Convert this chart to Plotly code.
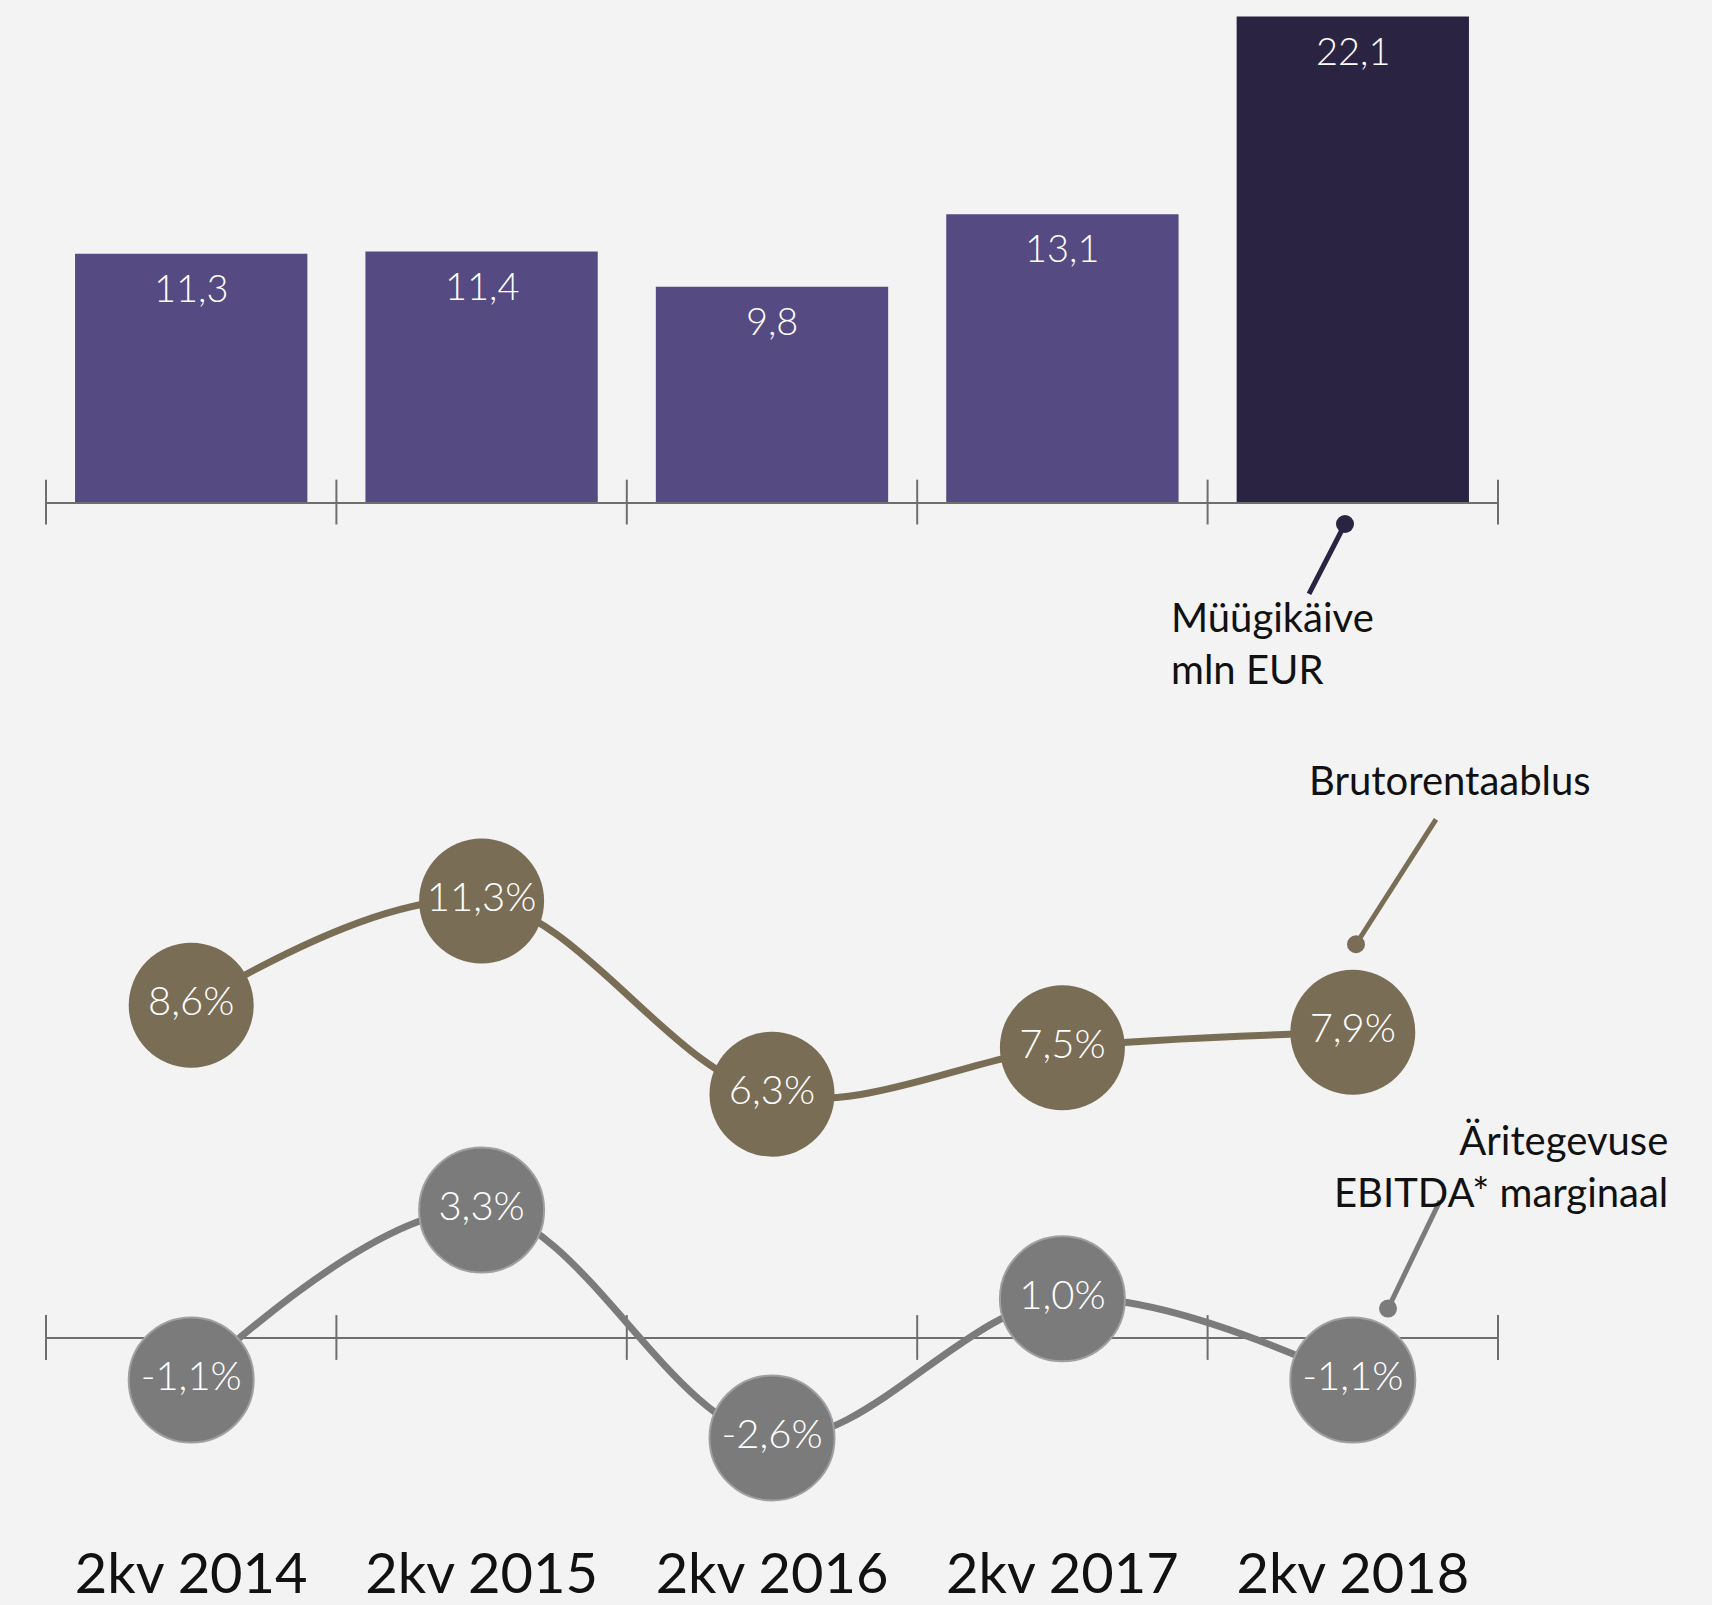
import plotly.graph_objects as go

# andmed
kvartalid = ["2kv 2014", "2kv 2015", "2kv 2016", "2kv 2017", "2kv 2018"]
myygikaive = [11.3, 11.4, 9.8, 13.1, 22.1]
brutorentaablus = [8.6, 11.3, 6.3, 7.5, 7.9]
ebitda_marginaal = [-1.1, 3.3, -2.6, 1.0, -1.1]

W, H = 1712, 1605
FONT = "Lato"
LILLA = "#554a82"
TUMELILLA = "#2a2442"
PRUUN = "#7a6d55"
HALL = "#7b7b7b"
TELG = "#6e6e6e"


def fmt(v):
    return f"{v:.1f}".replace(".", ",")


def px(x, y):
    # piksel -> paper koordinaat
    return x / W, 1 - y / H


fig = go.Figure()

idx = list(range(len(kvartalid)))
piirid = [i - 0.5 for i in range(len(kvartalid) + 1)]

# müügikäive tulbad
fig.add_trace(go.Bar(
    x=idx, y=myygikaive, width=0.8,
    marker=dict(color=[LILLA] * (len(idx) - 1) + [TUMELILLA], line=dict(width=0)),
    hoverinfo="skip", xaxis="x", yaxis="y",
))

# telje kriipsud (mõlemal pool joont)
for xa, ya in [("x", "y"), ("x2", "y2")]:
    fig.add_trace(go.Scatter(
        x=piirid, y=[0] * len(piirid), mode="markers",
        marker=dict(symbol="line-ns", size=32, line=dict(width=2, color=TELG)),
        cliponaxis=False, hoverinfo="skip", xaxis=xa, yaxis=ya,
    ))

# brutorentaablus
fig.add_trace(go.Scatter(
    x=idx, y=brutorentaablus, mode="lines+markers+text",
    line=dict(color=PRUUN, width=7, shape="spline"),
    marker=dict(size=125, color=PRUUN, line=dict(width=0)),
    text=[fmt(v) + "%" for v in brutorentaablus], textposition="middle center",
    textfont=dict(family=FONT, size=40, color="white", weight=300),
    cliponaxis=False, hoverinfo="skip", xaxis="x2", yaxis="y2",
))

# EBITDA marginaal
fig.add_trace(go.Scatter(
    x=idx, y=ebitda_marginaal, mode="lines+markers+text",
    line=dict(color=HALL, width=7, shape="spline"),
    marker=dict(size=125, color=HALL, line=dict(width=2, color="#a0a0a0")),
    text=[fmt(v) + "%" for v in ebitda_marginaal], textposition="middle center",
    textfont=dict(family=FONT, size=40, color="white", weight=300),
    cliponaxis=False, hoverinfo="skip", xaxis="x2", yaxis="y2",
))

# tulpade väärtused
annotations = []
for i, v in zip(idx, myygikaive):
    annotations.append(dict(
        x=i, y=v, xref="x", yref="y", text=fmt(v), showarrow=False,
        yanchor="middle", yshift=-33,
        font=dict(family=FONT, size=38, color="white", weight=300),
    ))

# seletavad tekstid
sildid = [
    ("Müügikäive<br>mln EUR", 1169, 644, "left"),
    ("Brutorentaablus", 1307, 781, "left"),
    ("Äritegevuse<br>EBITDA* marginaal", 1670, 1168, "right"),
]
for tekst, sx, sy, anchor in sildid:
    x, y = px(sx, sy)
    annotations.append(dict(x=x, y=y, xref="paper", yref="paper", text=tekst,
                            showarrow=False, xanchor=anchor, yanchor="middle", align=anchor,
                            font=dict(family=FONT, size=40, color="#111111")))

# viidajooned + täpid
shapes = []
for (x0, y0), (x1, y1), col in [
    ((1345, 525), (1309, 595), TUMELILLA),
    ((1356, 946), (1436, 821), PRUUN),
    ((1388, 1311), (1440, 1203), HALL),
]:
    a0, b0 = px(x0, y0)
    a1, b1 = px(x1, y1)
    shapes.append(dict(type="line", xref="paper", yref="paper", x0=a0, y0=b0, x1=a1, y1=b1,
                       line=dict(color=col, width=5)))
    c0, d0 = px(x0 - 9, y0 + 9)
    c1, d1 = px(x0 + 9, y0 - 9)
    shapes.append(dict(type="circle", xref="paper", yref="paper", x0=c0, y0=d0, x1=c1, y1=d1,
                       fillcolor=col, line=dict(width=0)))

dom_x = [46 / W, 1498 / W]
fig.update_layout(
    width=W, height=H,
    margin=dict(l=0, r=0, t=0, b=0),
    paper_bgcolor="#f3f3f3", plot_bgcolor="#f3f3f3",
    showlegend=False,
    font=dict(family=FONT),
    annotations=annotations,
    shapes=shapes,
    xaxis=dict(domain=dom_x, range=[-0.5, 4.5], showgrid=False, zeroline=False,
               showticklabels=False, showline=True, linecolor=TELG, linewidth=2,
               anchor="y"),
    yaxis=dict(domain=[1 - 503 / H, 1], range=[0, 503 / 22.01], visible=False),
    xaxis2=dict(domain=dom_x, range=[-0.5, 4.5], showgrid=False, zeroline=False,
                showline=False, anchor="y2", tickvals=idx, ticktext=kvartalid,
                ticks="", ticklabelposition="inside", ticklabelstandoff=-5,
                tickfont=dict(family=FONT, size=56, color="#111111")),
    yaxis2=dict(domain=[0, 0.62], range=[-(H - 1340) / 38.7, (1340 - H * 0.38) / 38.7],
                showgrid=False, showticklabels=False, zeroline=True,
                zerolinecolor=TELG, zerolinewidth=2),
)

fig.write_html("out.html", config={"displayModeBar": False},
               post_script="document.body.style.margin='0';")
